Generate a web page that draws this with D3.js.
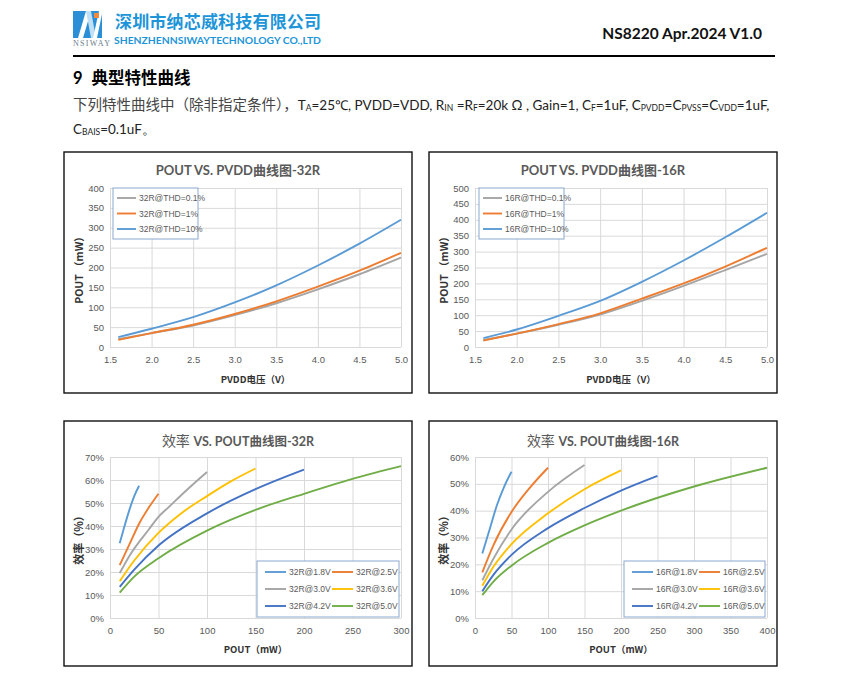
<!DOCTYPE html>
<html>
<head>
<meta charset="utf-8">
<script src="https://cdn.jsdelivr.net/npm/d3@7"></script>
<style>
  body { margin: 0; background: #fff; }
  svg { display: block; }
  .cjk { font-family: "Noto Sans CJK SC", sans-serif; }
  .tick text { font-family: "Liberation Sans Narrow", "Liberation Sans", Arial, sans-serif; font-size: 9.5px; fill: #595959; }
</style>
</head>
<body>
<svg id="page" width="850" height="676"></svg>
<script>
// values
const pvdd = [1.6, 2.0, 2.5, 3.0, 3.5, 4.0, 4.5, 5.0];
const thdNames = ["THD=0.1%", "THD=1%", "THD=10%"];
const thdColors = ["#a5a5a5", "#ed7d31", "#5b9bd5"];
const pout32 = [
  [20, 35, 54, 80, 110, 145, 183, 225],
  [18, 35, 56, 83, 115, 152, 192, 237],
  [25, 46, 75, 112, 155, 205, 260, 320]
];
const pout16 = [
  [22, 42, 70, 102, 145, 192, 242, 293],
  [20, 42, 72, 106, 152, 200, 253, 312],
  [28, 55, 98, 145, 205, 272, 345, 422]
];
const pvddTicks = [1.5, 2.0, 2.5, 3.0, 3.5, 4.0, 4.5, 5.0];
const pout32Ticks = [0, 50, 100, 150, 200, 250, 300, 350, 400];
const pout16Ticks = [0, 50, 100, 150, 200, 250, 300, 350, 400, 450, 500];

const vddNames = ["1.8V", "2.5V", "3.0V", "3.6V", "4.2V", "5.0V"];
const effColors = ["#5b9bd5", "#ed7d31", "#a5a5a5", "#ffc000", "#4472c4", "#70ad47"];
// [POUT mW, efficiency %]
const eff32 = [
  [[10, 32.5], [15, 40], [20, 47], [25, 53], [30, 57.5]],
  [[10, 23], [20, 32], [30, 41], [40, 48], [50, 54]],
  [[10, 19.5], [20, 27], [40, 38.5], [50, 44], [60, 48], [80, 56], [100, 63.5]],
  [[10, 16], [25, 25], [50, 37], [75, 46], [100, 53], [125, 59.5], [150, 65]],
  [[10, 13.5], [25, 21], [50, 31.5], [100, 45.5], [150, 56], [200, 64.5]],
  [[10, 11], [25, 18], [50, 26], [100, 38], [150, 47], [200, 54], [250, 60.5], [300, 66]]
];
const eff16 = [
  [[10, 24], [20, 33], [30, 42], [40, 49], [50, 54.5]],
  [[10, 17], [25, 27], [50, 39.5], [75, 48.5], [100, 56]],
  [[10, 14], [25, 22], [50, 33], [100, 47], [150, 57]],
  [[10, 12], [25, 19], [50, 27.5], [100, 39], [150, 48], [200, 55]],
  [[10, 10], [25, 16], [50, 23.5], [100, 33.5], [150, 41], [200, 47.5], [250, 53]],
  [[10, 8.5], [25, 13.5], [50, 19.5], [100, 28], [150, 34.5], [200, 40], [300, 49], [400, 56]]
];
const powTicks32 = [0, 50, 100, 150, 200, 250, 300];
const powTicks16 = [0, 50, 100, 150, 200, 250, 300, 350, 400];
const effTicks32 = [0, 10, 20, 30, 40, 50, 60, 70];
const effTicks16 = [0, 10, 20, 30, 40, 50, 60];

const svg = d3.select("#page");

// ---------- page header ----------
const logo = svg.append("g");
logo.append("rect").attr("x", 73).attr("y", 11).attr("width", 29).attr("height", 27).attr("fill", "#2a8fd6");
logo.append("polygon").attr("points", "78,38 86,11 91,11 83,38").attr("fill", "#fff");
logo.append("polygon").attr("points", "86,11 91,11 96,38 91,38").attr("fill", "#bfe0f7");
logo.append("polygon").attr("points", "93,38 99,11 102,11 102,14 97,38").attr("fill", "#fff");
logo.append("rect").attr("x", 94).attr("y", 13).attr("width", 5).attr("height", 5).attr("fill", "#f08a3c");
logo.append("text").attr("x", 73).attr("y", 46).attr("font-family", "Liberation Serif, serif")
  .attr("font-size", 8).attr("fill", "#6b7b8c").attr("textLength", 37).text("NSIWAY");

svg.append("text").attr("class", "cjk").attr("x", 115).attr("y", 28).attr("font-size", 17)
  .attr("font-weight", 700).attr("fill", "#1d95d8").attr("textLength", 206).text("深圳市纳芯威科技有限公司");
svg.append("text").attr("x", 114).attr("y", 44).attr("font-family", "Lato, 'Open Sans', sans-serif")
  .attr("font-size", 9.5).attr("font-weight", 700).attr("fill", "#1d95d8").attr("textLength", 207)
  .attr("lengthAdjust", "spacingAndGlyphs").text("SHENZHENNSIWAYTECHNOLOGY CO.,LTD");

svg.append("text").attr("x", 762).attr("y", 39).attr("text-anchor", "end")
  .attr("font-family", "Lato, 'Open Sans', sans-serif").attr("font-size", 15.5).attr("font-weight", 700)
  .attr("fill", "#111").text("NS8220 Apr.2024 V1.0");

svg.append("line").attr("x1", 73).attr("x2", 775).attr("y1", 56).attr("y2", 56)
  .attr("stroke", "#000").attr("stroke-width", 2);

svg.append("text").attr("x", 73).attr("y", 84).attr("font-size", 16.5).attr("font-weight", 700)
  .attr("fill", "#000").attr("font-family", "'Noto Sans CJK SC', sans-serif")
  .call(t => { t.append("tspan").attr("font-family", "Lato, sans-serif").text("9"); t.append("tspan").attr("dx", 9).text("典型特性曲线"); });

// condition line: [text, style]
const cond1 = [
  ["下列特性曲线中（除非指定条件），", "cjk"], ["T", ""], ["A", "sub"], ["=25℃, PVDD=VDD, R", ""], ["IN", "sub"],
  [" =R", ""], ["F", "sub"], ["=20k Ω , Gain=1, C", ""], ["F", "sub"], ["=1uF, C", ""], ["PVDD", "sub"],
  ["=C", ""], ["PVSS", "sub"], ["=C", ""], ["VDD", "sub"], ["=1uF,", ""]
];
const cond2 = [["C", ""], ["BAIS", "sub"], ["=0.1uF。", ""]];
function condLine(parts, yy) {
  const t = svg.append("text").attr("x", 73).attr("y", yy).attr("font-size", 13.5).attr("fill", "#222")
    .attr("font-family", "Lato, 'Open Sans', sans-serif");
  parts.forEach(p => {
    const s = t.append("tspan").text(p[0]);
    if (p[1] === "cjk") s.attr("font-family", "'Noto Sans CJK SC', sans-serif").attr("font-size", 14.5).attr("fill", "#444");
    if (p[1] === "sub") s.attr("font-size", 8.5).attr("baseline-shift", "-1");
  });
  return t;
}
condLine(cond1, 110);
condLine(cond2, 134);

// ---------- charts ----------
function drawChart(o) {
  const g = svg.append("g");
  const [bx0, by0, bx1, by1] = o.box;
  const [px0, py0, px1, py1] = o.plot;
  g.append("rect").attr("x", bx0).attr("y", by0).attr("width", bx1 - bx0).attr("height", by1 - by0)
    .attr("fill", "#fff").attr("stroke", "#111").attr("stroke-width", 1.4);

  const x = d3.scaleLinear(o.xDomain, [px0, px1]);
  const y = d3.scaleLinear(o.yDomain, [py1, py0]);

  g.append("g").attr("transform", `translate(${px0},0)`)
    .call(d3.axisLeft(y).tickValues(o.yTicks).tickFormat(o.yFormat).tickSize(-(px1 - px0)).tickPadding(6))
    .call(a => a.select(".domain").remove())
    .call(a => a.selectAll("line").attr("stroke", "#d9d9d9"));
  g.append("g").attr("transform", `translate(0,${py1})`)
    .call(d3.axisBottom(x).tickValues(o.xTicks).tickFormat(o.xFormat).tickSize(-(py1 - py0)).tickPadding(9))
    .call(a => a.select(".domain").remove())
    .call(a => a.selectAll("line").attr("stroke", "#d9d9d9"));

  const line = d3.line().x(d => x(d[0])).y(d => y(d[1])).curve(d3.curveMonotoneX);
  g.append("g").selectAll("path").data(o.series).join("path")
    .attr("d", d => line(d.pts)).attr("fill", "none")
    .attr("stroke", d => d.color).attr("stroke-width", 1.9);

  // title: Latin in Lato, Chinese falls back to Noto CJK
  const cx = (bx0 + bx1) / 2;
  const title = g.append("text").attr("x", cx).attr("y", o.titleY).attr("text-anchor", "middle")
    .attr("font-family", "Lato, 'Noto Sans CJK SC', sans-serif").attr("font-size", 13.5).attr("fill", "#595959");
  o.title.forEach(p => title.append("tspan").attr("font-weight", p[1]).attr("font-size", p[2]).text(p[0]));

  g.append("text").attr("x", (px0 + px1) / 2).attr("y", o.xLabelY).attr("text-anchor", "middle")
    .attr("font-family", "'Noto Sans CJK SC', sans-serif").attr("font-size", 9.5).attr("font-weight", 700)
    .attr("fill", "#333").text(o.xLabel);
  g.append("text").attr("transform", `translate(${bx0 + 19},${(py0 + py1) / 2}) rotate(-90)`)
    .attr("text-anchor", "middle")
    .attr("font-family", "'Noto Sans CJK SC', sans-serif").attr("font-size", o.yLabelFs).attr("font-weight", 700)
    .attr("fill", "#333").text(o.yLabel);

  // legend
  const L = o.legend;
  const lg = g.append("g");
  lg.append("rect").attr("x", L.x).attr("y", L.y).attr("width", L.w).attr("height", L.h)
    .attr("fill", "#fff").attr("stroke", "#8aa7cf").attr("stroke-width", 1);
  const items = lg.selectAll("g").data(o.series).join("g")
    .attr("transform", (d, i) => `translate(${L.x + L.dx + (i % L.cols) * L.colW},${L.y + L.dy + Math.floor(i / L.cols) * L.rowH})`);
  items.append("line").attr("x1", 0).attr("x2", L.lineW).attr("stroke", d => d.color).attr("stroke-width", 1.9);
  items.append("text").attr("x", L.lineW + 3).attr("y", 3)
    .attr("font-family", "'Liberation Sans Narrow', 'Liberation Sans', Arial, sans-serif")
    .attr("font-size", L.fs).attr("fill", "#595959").text(d => d.name);
}

const fmtV = d3.format(".1f");
const fmtPct = d => d + "%";

drawChart({
  box: [64, 152, 412, 393], plot: [110, 188, 401, 347],
  xDomain: [1.5, 5.0], yDomain: [0, 400], xTicks: pvddTicks, yTicks: pout32Ticks,
  xFormat: fmtV, yFormat: d => d,
  series: pout32.map((v, i) => ({ name: "32R@" + thdNames[i], color: thdColors[i], pts: pvdd.map((p, j) => [p, v[j]]) })),
  title: [["POUT VS. PVDD曲线图-32R", 700, 13]], titleY: 175,
  xLabel: "PVDD电压（V）", xLabelY: 383, yLabel: "POUT （mW）", yLabelFs: 10.5,
  legend: { x: 113, y: 188, w: 85, h: 51, dx: 4, dy: 10, cols: 1, colW: 0, rowH: 15.5, lineW: 19, fs: 8.5 }
});
drawChart({
  box: [429, 152, 777, 393], plot: [475, 188, 767, 347],
  xDomain: [1.5, 5.0], yDomain: [0, 500], xTicks: pvddTicks, yTicks: pout16Ticks,
  xFormat: fmtV, yFormat: d => d,
  series: pout16.map((v, i) => ({ name: "16R@" + thdNames[i], color: thdColors[i], pts: pvdd.map((p, j) => [p, v[j]]) })),
  title: [["POUT VS. PVDD曲线图-16R", 700, 13]], titleY: 175,
  xLabel: "PVDD电压（V）", xLabelY: 383, yLabel: "POUT （mW）", yLabelFs: 10.5,
  legend: { x: 479, y: 188, w: 85, h: 51, dx: 4, dy: 10, cols: 1, colW: 0, rowH: 15.5, lineW: 19, fs: 8.5 }
});
drawChart({
  box: [64, 421, 412, 666], plot: [110, 457, 401, 618],
  xDomain: [0, 300], yDomain: [0, 70], xTicks: powTicks32, yTicks: effTicks32,
  xFormat: d => d, yFormat: fmtPct,
  series: eff32.map((pts, i) => ({ name: "32R@" + vddNames[i], color: effColors[i], pts })),
  title: [["效率 ", 400, 14], ["VS. POUT曲线图-32R", 700, 12.5]], titleY: 446,
  xLabel: "POUT（mW）", xLabelY: 653, yLabel: "效率（%）", yLabelFs: 11,
  legend: { x: 257, y: 561, w: 142, h: 56, dx: 8, dy: 11, cols: 2, colW: 67, rowH: 17, lineW: 21, fs: 8.5 }
});
drawChart({
  box: [429, 421, 777, 666], plot: [475, 457, 767, 618],
  xDomain: [0, 400], yDomain: [0, 60], xTicks: powTicks16, yTicks: effTicks16,
  xFormat: d => d, yFormat: fmtPct,
  series: eff16.map((pts, i) => ({ name: "16R@" + vddNames[i], color: effColors[i], pts })),
  title: [["效率 ", 400, 14], ["VS. POUT曲线图-16R", 700, 12.5]], titleY: 446,
  xLabel: "POUT（mW）", xLabelY: 653, yLabel: "效率（%）", yLabelFs: 11,
  legend: { x: 624, y: 561, w: 141, h: 56, dx: 8, dy: 11, cols: 2, colW: 67, rowH: 17, lineW: 21, fs: 8.5 }
});
</script>
</body>
</html>
